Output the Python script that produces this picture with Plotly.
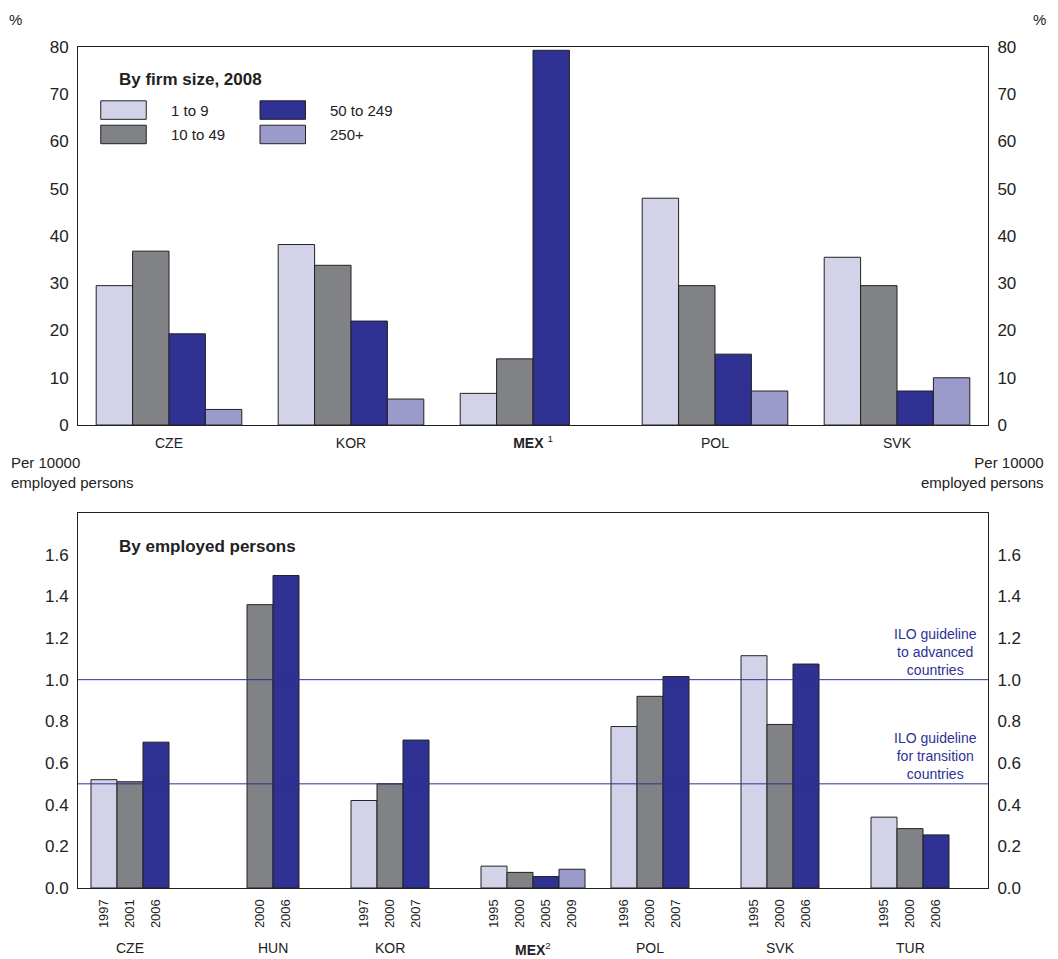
import plotly.graph_objects as go

# top panel: by firm size, 2008
top_countries = ['CZE', 'KOR', 'MEX', 'POL', 'SVK']
top_labels = ['CZE', 'KOR', '<b>MEX</b> <sup>1</sup>', 'POL', 'SVK']
size_names = ['1 to 9', '10 to 49', '50 to 249', '250+']
size_values = {
    '1 to 9':    [29.5, 38.2, 6.7, 48.0, 35.5],
    '10 to 49':  [36.8, 33.8, 14.0, 29.5, 29.5],
    '50 to 249': [19.3, 22.0, 79.3, 15.0, 7.2],
    '250+':      [3.3, 5.5, None, 7.2, 10.0],
}

# bottom panel: per 10000 employed persons
bot_countries = ['CZE', 'HUN', 'KOR', '<b>MEX</b><sup>2</sup>', 'POL', 'SVK', 'TUR']
bot_years = [['1997', '2001', '2006'], ['2000', '2006'], ['1997', '2000', '2007'],
             ['1995', '2000', '2005', '2009'], ['1996', '2000', '2007'],
             ['1995', '2000', '2006'], ['1995', '2000', '2006']]
bot_values = [[0.52, 0.51, 0.70], [1.36, 1.50], [0.42, 0.50, 0.71],
              [0.105, 0.075, 0.055, 0.09], [0.775, 0.92, 1.015],
              [1.115, 0.785, 1.075], [0.34, 0.285, 0.255]]
bot_color_idx = [[0, 1, 2], [1, 2], [0, 1, 2], [0, 1, 2, 3], [0, 1, 2], [0, 1, 2], [0, 1, 2]]
group_start = [1, 7, 11, 16, 21, 26, 31]

colors = ['#d2d2e9', '#818285', '#2e3192', '#9b9bcb']
font = 'Liberation Sans, Arial, sans-serif'

fig = go.Figure()
for name, c in zip(size_names, colors):
    fig.add_trace(go.Bar(x=top_countries, y=size_values[name], name=name,
                         marker=dict(color=c, line=dict(color='#222', width=1)),
                         xaxis='x', yaxis='y'))

xs, ys, cs, tv, tt = [], [], [], [], []
for g, (yrs, vals, ci) in enumerate(zip(bot_years, bot_values, bot_color_idx)):
    for i, (yr, v, k) in enumerate(zip(yrs, vals, ci)):
        xs.append(group_start[g] + i)
        ys.append(v)
        cs.append(colors[k])
        tv.append(group_start[g] + i)
        tt.append(yr)
fig.add_trace(go.Bar(x=xs, y=ys, width=1, showlegend=False,
                     marker=dict(color=cs, line=dict(color='#222', width=1)),
                     xaxis='x2', yaxis='y3'))

# ILO guideline lines
for yv in [1.0, 0.5]:
    fig.add_shape(type='line', xref='x2 domain', yref='y3', x0=0, x1=1, y0=yv, y1=yv,
                  line=dict(color='#2e3192', width=1))

ax = dict(showgrid=False, zeroline=False, showline=True, linecolor='#222', mirror=True,
          ticks='outside', ticklen=5, tickcolor='rgba(0,0,0,0)', automargin=False,
          tickfont=dict(size=17, color='#222'))
ytv = [0, .2, .4, .6, .8, 1, 1.2, 1.4, 1.6]
fig.update_layout(
    width=1050, height=951, plot_bgcolor='white', paper_bgcolor='white',
    font=dict(family=font, color='#222'),
    margin=dict(l=70, r=70, t=39, b=71),
    barmode='group', bargap=0.2, bargroupgap=0,
    xaxis=dict(ax, domain=[0, 1], anchor='y', tickfont=dict(size=14, color='#222'),
               tickvals=top_countries, ticktext=top_labels),
    yaxis=dict(ax, domain=[0.5505, 1], range=[0, 80], dtick=10),
    yaxis2=dict(ax, domain=[0.5505, 1], range=[0, 80], dtick=10, overlaying='y',
                side='right', anchor='x', showline=False),
    xaxis2=dict(ax, domain=[0, 1], anchor='y3', range=[0, 35], tickvals=tv, ticktext=tt,
                tickangle=-90, tickfont=dict(size=13, color='#222')),
    yaxis3=dict(ax, domain=[0, 0.4459], range=[0, 1.8], tickvals=ytv, tickformat='.1f'),
    yaxis4=dict(ax, domain=[0, 0.4459], range=[0, 1.8], tickvals=ytv, tickformat='.1f',
                overlaying='y3', side='right', anchor='x2', showline=False),
    showlegend=False,
)

# invisible markers so the right-hand axes render
fig.add_trace(go.Scatter(x=[top_countries[0]], y=[0], mode='markers', marker=dict(opacity=0),
                         showlegend=False, hoverinfo='skip', xaxis='x', yaxis='y2'))
fig.add_trace(go.Scatter(x=[0], y=[0], mode='markers', marker=dict(opacity=0),
                         showlegend=False, hoverinfo='skip', xaxis='x2', yaxis='y4'))

ann = []
# legend drawn manually as boxes + text
ann.append(dict(text='<b>By firm size, 2008</b>', x=0.043, y=0.975, xref='paper', yref='paper',
                xanchor='left', yanchor='top', showarrow=False, font=dict(size=17)))
leg_pos = [(0.025, 0.925), (0.025, 0.896), (0.2, 0.925), (0.2, 0.896)]
for (lx, ly), name, c in zip(leg_pos, size_names, colors):
    fig.add_shape(type='rect', xref='paper', yref='paper', x0=lx, x1=lx + 0.05,
                  y0=ly - 0.011, y1=ly + 0.011, fillcolor=c, line=dict(color='#222', width=1))
    ann.append(dict(text=name, x=lx + 0.075, y=ly, xref='paper', yref='paper', xanchor='left',
                    yanchor='middle', showarrow=False, font=dict(size=15)))
ann.append(dict(text='<b>By employed persons</b>', x=0.043, y=0.42, xref='paper', yref='paper',
                xanchor='left', yanchor='top', showarrow=False, font=dict(size=17)))
for lab, yv in [('ILO guideline<br>to advanced<br>countries', 1.0),
                ('ILO guideline<br>for transition<br>countries', 0.5)]:
    ann.append(dict(text=lab, x=0.99, y=yv, xref='paper', yref='y3', xanchor='right',
                    yanchor='bottom', showarrow=False, align='center',
                    font=dict(size=14, color='#2e3192')))
for g, lab in enumerate(bot_countries):
    ann.append(dict(text=lab, x=group_start[g] + (len(bot_years[g]) - 1) / 2, y=-0.06,
                    xref='x2', yref='paper', yanchor='top', showarrow=False, font=dict(size=14)))
ann += [
    dict(text='%', x=-0.078, y=1.045, xref='paper', yref='paper', xanchor='left', showarrow=False, font=dict(size=15)),
    dict(text='%', x=1.066, y=1.045, xref='paper', yref='paper', xanchor='right', showarrow=False, font=dict(size=15)),
    dict(text='Per 10000<br>employed persons', x=-0.076, y=0.518, xref='paper', yref='paper',
         xanchor='left', yanchor='top', align='left', showarrow=False, font=dict(size=15)),
    dict(text='Per 10000<br>employed persons', x=1.064, y=0.518, xref='paper', yref='paper',
         xanchor='right', yanchor='top', align='right', showarrow=False, font=dict(size=15)),
]
fig.update_layout(annotations=ann)
fig.write_html("out.html")
